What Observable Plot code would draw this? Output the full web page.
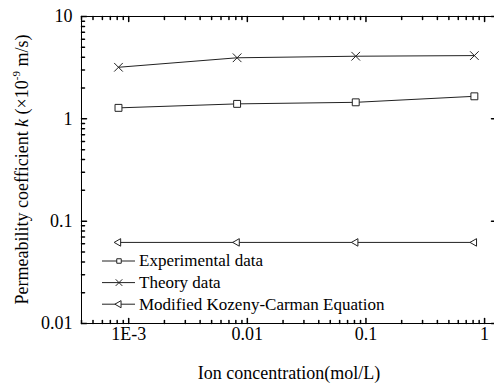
<!DOCTYPE html>
<html><head><meta charset="utf-8">
<script src="https://cdn.jsdelivr.net/npm/d3@7"></script>
<script src="https://cdn.jsdelivr.net/npm/@observablehq/plot@0.6"></script>
<style>
body{margin:0;background:#fff;overflow:hidden}
svg{font-family:"Liberation Serif","Times New Roman",serif}
</style>
</head><body><div id="chart"></div>
<script>
const concentrations = [0.00082, 0.0082, 0.082, 0.82];
const experimental = [1.28, 1.40, 1.45, 1.66];
const theory = [3.19, 3.95, 4.09, 4.15];
const kozeny = [0.062, 0.062, 0.062, 0.062];
const seriesNames = ["Experimental data", "Theory data", "Modified Kozeny-Carman Equation"];
const xTickValues = [0.001, 0.01, 0.1, 1];
const xTickLabels = ["1E-3", "0.01", "0.1", "1"];
const yTickValues = [0.01, 0.1, 1, 10];
const yTickLabels = ["0.01", "0.1", "1", "10"];
const xDomain = [0.0004, 1.26];
const yDomain = [0.01, 10];
const xLabel = "Ion concentration(mol/L)";

function minors(lo, hi) {
  const out = [];
  for (let e = -5; e <= 2; e++) for (let m = 2; m <= 9; m++) {
    const v = +(m * Math.pow(10, e)).toPrecision(6);
    if (v >= lo && v <= hi) out.push(v);
  }
  return out;
}
const xMinor = minors(xDomain[0], xDomain[1]);
const yMinor = minors(yDomain[0], yDomain[1]);

const rows = concentrations.flatMap((c, i) => [
  {c, k: experimental[i], s: seriesNames[0]},
  {c, k: theory[i], s: seriesNames[1]},
  {c, k: kozeny[i], s: seriesNames[2]}
]);

const tickShape = {draw(ctx, l) { ctx.moveTo(0, 0); ctx.lineTo(0, -l); }};
const ink = "#222";
function ticks(vals, len) {
  return [
    Plot.vector(vals, {x: d => d, y: () => yDomain[0], length: len, rotate: 0, anchor: "start", shape: tickShape, stroke: "#000"}),
    Plot.vector(vals, {x: d => d, y: () => yDomain[1], length: len, rotate: 180, anchor: "start", shape: tickShape, stroke: "#000"})
  ];
}
function yticks(vals, len, right) {
  const m = [Plot.vector(vals, {x: () => xDomain[0], y: d => d, length: len, rotate: 90, anchor: "start", shape: tickShape, stroke: "#000"})];
  if (right) m.push(Plot.vector(vals, {x: () => xDomain[1], y: d => d, length: len, rotate: -90, anchor: "start", shape: tickShape, stroke: "#000"}));
  return m;
}

const chart = Plot.plot({
  width: 494,
  height: 387,
  marginLeft: 81,
  marginRight: -2,
  marginTop: 16,
  marginBottom: 64,
  style: {fontFamily: '"Liberation Serif", serif', background: "#fff", overflow: "visible"},
  x: {type: "log", domain: xDomain},
  y: {type: "log", domain: yDomain},
  marks: [
    Plot.frame({stroke: "#000"}),
    ...ticks(xTickValues, 5),
    ...ticks(xMinor, 3),
    ...yticks(yTickValues, 5, true),
    ...yticks(yMinor, 3, false),
    Plot.axisX(xTickValues, {tickFormat: d => xTickLabels[xTickValues.indexOf(d)], tickSize: 0, tickPadding: 4, fontSize: 18, label: xLabel, labelAnchor: "center", labelOffset: 55, labelArrow: "none"}),
    Plot.axisY(yTickValues, {tickFormat: d => yTickLabels[yTickValues.indexOf(d)], tickSize: 0, tickPadding: 9, fontSize: 18, label: null}),
    Plot.line(rows, {x: "c", y: "k", z: "s", stroke: ink, strokeWidth: 1}),
    Plot.dot(rows.filter(d => d.s === seriesNames[0]), {x: "c", y: "k", symbol: "square", r: 3.9, fill: "#fff", stroke: ink, strokeWidth: 1}),
    Plot.dot(rows.filter(d => d.s === seriesNames[1]), {x: "c", y: "k", symbol: "times", r: 4, stroke: ink, strokeWidth: 1}),
    Plot.dot(rows.filter(d => d.s === seriesNames[2]), {x: "c", y: "k", symbol: "triangle", r: 2.8, rotate: -90, fill: "#fff", stroke: ink, strokeWidth: 1})
  ]
});
document.getElementById("chart").append(chart);

const svg = d3.select(chart);
// y axis title
const yt = svg.append("text")
  .attr("transform", `translate(28,${(16 + 323) / 2}) rotate(-90)`)
  .attr("text-anchor", "middle")
  .attr("font-size", 18)
  .attr("fill", "#000");
yt.append("tspan").text("Permeability coefficient ");
yt.append("tspan").attr("font-style", "italic").text("k");
yt.append("tspan").text(" (×10");
yt.append("tspan").attr("font-size", 11).attr("dy", -8).text("-9");
yt.append("tspan").attr("dy", 8).text(" m/s)");

// legend
const symbols = [d3.symbolSquare, d3.symbolTimes, d3.symbolTriangle];
const sizes = [20, 30, 22];
const lg = svg.append("g").attr("text-anchor", "start");
seriesNames.forEach((name, i) => {
  const y = 261 + i * 21.6;
  lg.append("line").attr("x1", 102).attr("x2", 135).attr("y1", y).attr("y2", y).attr("stroke", ink);
  lg.append("path").attr("d", d3.symbol(symbols[i], sizes[i])())
    .attr("transform", `translate(119,${y})` + (i === 2 ? " rotate(-90)" : ""))
    .attr("fill", i === 1 ? "none" : "#fff").attr("stroke", ink);
  lg.append("text").attr("x", 139).attr("y", y).attr("dy", "0.32em")
    .attr("text-anchor", "start")
    .attr("font-size", 17).attr("fill", "#000").text(name);
});
</script>
</body></html>
